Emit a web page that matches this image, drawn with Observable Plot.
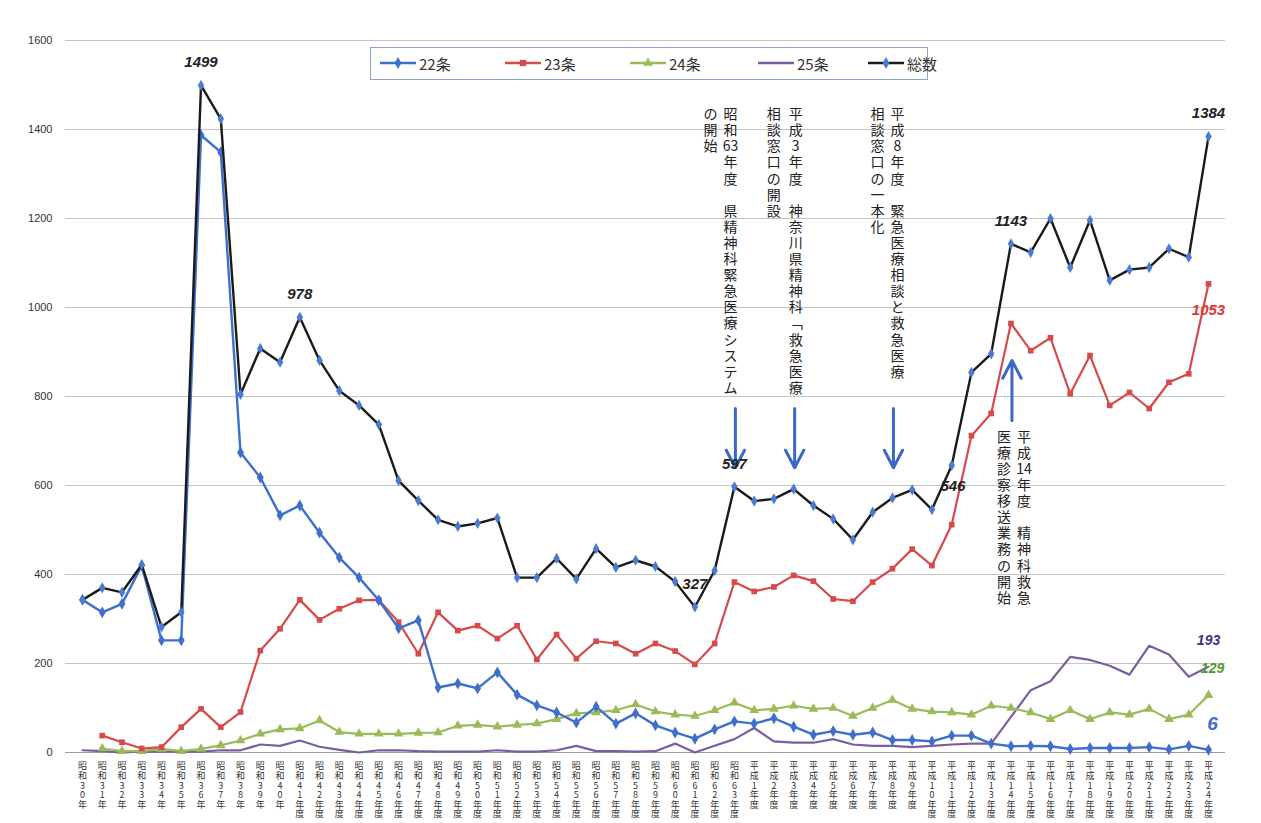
<!DOCTYPE html>
<html><head><meta charset="utf-8">
<script src="https://cdn.jsdelivr.net/npm/d3@7"></script>
<script src="https://cdn.jsdelivr.net/npm/@observablehq/plot@0.6"></script>
<style>
body{margin:0;background:#fff;font-family:"Noto Sans CJK JP",sans-serif;}
#wrap{position:relative;width:1261px;height:823px;}
#legend{position:absolute;left:370px;top:47px;width:558px;height:33px;border:1.5px solid #8ea3c8;background:#fff;box-sizing:border-box;}
.li{position:absolute;top:4px;display:flex;align-items:center;font-size:15px;color:#333;height:22px;white-space:nowrap;}
.li svg{margin-right:2px;}
</style></head><body>
<div id="wrap"><div id="chart"></div><div id="legend"></div></div>
<script>
// ---- data ----
const labels = [
 "昭和30年","昭和31年","昭和32年","昭和33年","昭和34年","昭和35年","昭和36年","昭和37年","昭和38年","昭和39年","昭和40年",
 "昭和41年度","昭和42年度","昭和43年度","昭和44年度","昭和45年度","昭和46年度","昭和47年度","昭和48年度","昭和49年度","昭和50年度",
 "昭和51年度","昭和52年度","昭和53年度","昭和54年度","昭和55年度","昭和56年度","昭和57年度","昭和58年度","昭和59年度","昭和60年度",
 "昭和61年度","昭和62年度","昭和63年度",
 "平成1年度","平成2年度","平成3年度","平成4年度","平成5年度","平成6年度","平成7年度","平成8年度","平成9年度","平成10年度",
 "平成11年度","平成12年度","平成13年度","平成14年度","平成15年度","平成16年度","平成17年度","平成18年度","平成19年度","平成20年度",
 "平成21年度","平成22年度","平成23年度","平成24年度"];
const art22 = [343,315,334,420,252,252,1387,1349,674,618,533,555,494,438,393,342,279,297,146,155,144,180,130,106,90,67,103,65,88,61,45,31,52,70,65,77,58,40,48,40,45,28,28,25,38,38,20,14,15,14,8,10,10,10,12,7,15,6];
const art23 = [null,38,23,9,12,57,98,57,91,229,278,343,298,323,342,343,293,222,315,274,285,256,285,209,265,211,250,245,222,245,228,198,245,383,362,372,398,385,345,340,383,413,457,420,512,712,762,964,903,932,806,892,780,809,773,832,851,1053];
const art24 = [null,9,3,3,8,3,8,16,27,42,52,54,72,46,42,42,42,44,45,60,62,58,62,65,75,88,90,95,108,92,85,82,95,112,95,98,105,98,100,82,100,118,98,92,90,85,105,100,90,75,95,75,90,85,98,75,85,129];
const art25 = [5,3,0,2,2,2,2,5,5,18,15,27,13,6,0,5,5,3,2,2,2,5,2,2,5,15,3,3,2,3,20,0,15,30,55,25,22,22,30,18,15,15,12,15,18,20,20,80,140,160,215,208,195,175,240,220,170,193];
const totals = [343,370,360,422,282,315,1499,1424,805,908,877,978,881,813,780,737,611,566,523,508,515,527,393,393,436,390,458,416,432,418,384,327,409,597,565,570,592,555,525,478,540,572,590,546,645,854,896,1143,1124,1200,1090,1196,1061,1085,1090,1132,1113,1384];
const seriesNames = ["22条","23条","24条","25条","総数"];
const yTicks = [0,200,400,600,800,1000,1200,1400,1600];
// data labels: [index, series, text]
const valueLabels = [
 [6,"総数","1499"],[11,"総数","978"],[31,"総数","327"],[33,"総数","597"],[43,"総数","546"],
 [47,"総数","1143"],[57,"総数","1384"],[57,"23条","1053"],[57,"25条","193"],[57,"24条","129"],[57,"22条","6"]];
// annotations (vertical text)
const noteText = [
 "昭和63年度 県精神科緊急医療システム","の開始",
 "平成3年度 神奈川県精神科「救急医療","相談窓口の開設",
 "平成8年度 緊急医療相談と救急医療","相談窓口の一本化",
 "平成14年度 精神科救急","医療診察移送業務の開始"];
const noteAt = ["昭和63年度","昭和63年度","平成3年度","平成3年度","平成8年度","平成8年度","平成14年度","平成14年度"];
const noteTop = [1449,1449,1449,1449,1449,1449,724,724];
const arrowAt = ["昭和63年度","平成3年度","平成8年度","平成14年度"];
const arrowFrom = [773,773,773,746];
const arrowTo = [640,640,640,881];

// ---- build ----
const colors = {"22条":"#3e6fcd","23条":"#d64a4a","24条":"#9bbb59","25条":"#7a5fa0","総数":"#1a1a1a"};
const seriesVals = {"22条":art22,"23条":art23,"24条":art24,"25条":art25,"総数":totals};
const rows = labels.map((l,i)=>({label:l,a22:art22[i],a23:art23[i],a24:art24[i],a25:art25[i],tot:totals[i]}));
// stack characters top-to-bottom (tategaki); digit groups stay in one cell in notes
const vertNote = s => s.match(/\d+|./gu).map(c => c === "「" ? "﹁" : c).join("\n");
const vertTick = s => Array.from(s).join("\n");
const notes = noteText.map((t,i)=>({x:noteAt[i], y:noteTop[i], text:vertNote(t), k:i}));
const noteDx = [-4,-24,2,-20,5,-15,13,-7];
const arrows = arrowAt.map((a,i)=>({x:a,y1:arrowFrom[i],y2:arrowTo[i]}));
const vl = valueLabels.map(([i,s,t])=>({x:labels[i], y:seriesVals[s][i], text:t, s}));

const textMarks = notes.map(n => Plot.text([n], {x:"x", y:"y", text:"text", dx:noteDx[n.k], textAnchor:"middle", lineAnchor:"top", fontSize:14, lineHeight:1.15, fill:"#222"}));
const lblStyle = {"総数":{dy:-23,fill:"#222",fs:15},"23条":{dy:26,fill:"#e03a3a",fs:15},"25条":{dy:-26,fill:"#353585",fs:14},"24条":{dy:-27,fill:"#4f9a2a",fs:14},"22条":{dy:-26,fill:"#3e6fcd",fs:19}};
const lblMarks = vl.map(d => Plot.text([d], {x:"x", y:"y", text:"text", dy:lblStyle[d.s].dy, dx: d.s==="24条"?4:(d.s==="22条"?4:(d.text==="546"?21:0)), fill:lblStyle[d.s].fill, fontSize:lblStyle[d.s].fs, fontWeight:"bold", fontStyle:"italic", fontFamily:"'Liberation Sans', Arial, sans-serif"}));

const chart = Plot.plot({
  width:1261, height:823,
  marginLeft:65, marginRight:36, marginTop:40, marginBottom:71,
  style:{fontFamily:"'Noto Sans CJK JP', sans-serif", background:"white", overflow:"visible"},
  x:{type:"point", domain:labels, padding:0.86},
  y:{domain:[0,1600]},
  marks:[
    Plot.ruleY(yTicks.slice(1), {stroke:"#c4c4c4", strokeWidth:1.2}),
    Plot.ruleY([0], {stroke:"#9a9a9a", strokeWidth:1.2}),
    Plot.axisY({ticks:yTicks, tickSize:0, tickPadding:13, fontSize:11, fill:"#333", label:null, tickFormat:d=>String(d), fontFamily:"'Liberation Sans', Arial, sans-serif"}),
    Plot.axisX({tickSize:0, tickPadding:10, fontSize:9, lineHeight:1.07, tickFormat:vertTick, label:null, fill:"#333"}),
    Plot.line(rows, {x:"label", y:"a25", stroke:colors["25条"], strokeWidth:2.2}),
    Plot.line(rows, {x:"label", y:"a24", stroke:colors["24条"], strokeWidth:2.2}),
    Plot.dot(rows, {x:"label", y:"a24", symbol:"triangle", r:3.6, fill:colors["24条"]}),
    Plot.line(rows, {x:"label", y:"a23", stroke:colors["23条"], strokeWidth:2.2}),
    Plot.dot(rows, {x:"label", y:"a23", symbol:"square", r:3.2, fill:colors["23条"]}),
    Plot.line(rows, {x:"label", y:"a22", stroke:colors["22条"], strokeWidth:2.4}),
    Plot.dot(rows, {x:"label", y:"a22", symbol:"diamond", r:3.6, fill:colors["22条"]}),
    Plot.line(rows, {x:"label", y:"tot", stroke:colors["総数"], strokeWidth:2.4}),
    Plot.dot(rows, {x:"label", y:"tot", symbol:"diamond", r:3.4, fill:"#4a7bd0"}),
    Plot.arrow(arrows, {x:"x", y1:"y1", y2:"y2", dx:1, stroke:"#3b67c9", strokeWidth:3, headLength:11, headAngle:55}),
    ...textMarks,
    ...lblMarks
  ]
});
document.getElementById("chart").appendChild(chart);

// legend
const legend = document.getElementById("legend");
const legX = [8,133,258,386,496];
const sym = {"22条":"diamond","23条":"square","24条":"triangle","25条":null,"総数":"diamond"};
seriesNames.forEach((s,i)=>{
  const div = document.createElement("div");
  div.className = "li"; div.style.left = legX[i]+"px";
  const svg = d3.create("svg").attr("width",38).attr("height",14);
  svg.append("line").attr("x1",1).attr("x2",37).attr("y1",7).attr("y2",7).attr("stroke",colors[s]).attr("stroke-width",2.5);
  if (sym[s]) {
    const t = sym[s]==="diamond"?d3.symbolDiamond:sym[s]==="square"?d3.symbolSquare:d3.symbolTriangle;
    svg.append("path").attr("d",d3.symbol(t,40)()).attr("transform","translate(19,7)").attr("fill", s==="総数"?"#4a7bd0":colors[s]);
  }
  div.appendChild(svg.node());
  const sp = document.createElement("span"); sp.textContent = s; div.appendChild(sp);
  legend.appendChild(div);
});
</script>
</body></html>
